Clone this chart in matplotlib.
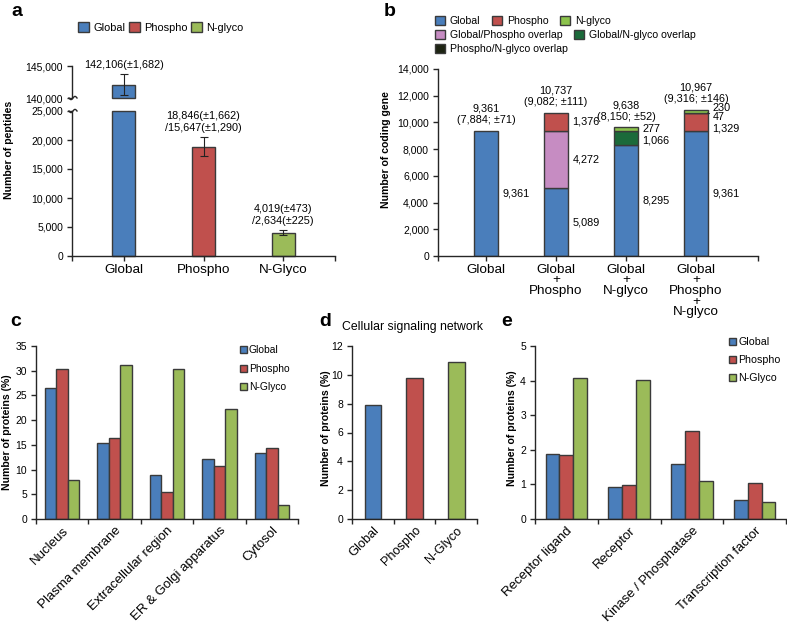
import numpy as np
import matplotlib
matplotlib.use("Agg")
from matplotlib import pyplot as plt
from matplotlib.patches import Patch
from matplotlib.lines import Line2D
from matplotlib.ticker import StrMethodFormatter

plt.rcParams["font.family"] = ["Liberation Sans", "DejaVu Sans"]

W, H = 787, 625

BLUE = "#4a7ebb"
RED = "#c0504d"
GREEN = "#9bbb59"
LIGHTGREEN = "#8cc34c"
PINK = "#c68cc2"
DKGREEN = "#1b6a3a"
BLACKISH = "#1d2412"
EDGE = "#3a3a3a"
AXIS = "#262626"

# a: peptides per dataset
a_categories = ["Global", "Phospho", "N-Glyco"]
a_peptides = [142106, 18846, 4019]
a_errors = [1682, 1662, 473]
a_labels = ["142,106(\u00b11,682)",
            "18,846(\u00b11,662)\n/15,647(\u00b11,290)",
            "4,019(\u00b1473)\n/2,634(\u00b1225)"]

# b: coding genes, stacked
b_categories = ["Global", "Global\n+\nPhospho", "Global\n+\nN-glyco",
                "Global\n+\nPhospho\n+\nN-glyco"]
b_global = [9361, 5089, 8295, 9361]
b_global_phospho = [0, 4272, 0, 0]
b_global_nglyco = [0, 0, 1066, 0]
b_phospho = [0, 1376, 0, 1329]
b_phospho_nglyco = [0, 0, 0, 47]
b_nglyco = [0, 0, 277, 230]
b_notes = ["(7,884; \u00b171)", "(9,082; \u00b1111)", "(8,150; \u00b152)", "(9,316; \u00b1146)"]

# c: subcellular location
c_categories = ["Nucleus", "Plasma membrane", "Extracellular region",
                "ER & Golgi apparatus", "Cytosol"]
c_global = [26.6, 15.3, 9.0, 12.1, 13.4]
c_phospho = [30.3, 16.3, 5.4, 10.7, 14.3]
c_nglyco = [7.8, 31.1, 30.3, 22.2, 2.9]

# d: cellular signaling network
d_categories = ["Global", "Phospho", "N-Glyco"]
d_values = [7.9, 9.8, 10.9]

# e: signaling classes
e_categories = ["Receptor ligand", "Receptor", "Kinase / Phosphatase",
                "Transcription factor"]
e_global = [1.89, 0.93, 1.59, 0.54]
e_phospho = [1.85, 0.98, 2.55, 1.04]
e_nglyco = [4.08, 4.01, 1.10, 0.49]


def rect(x0, y0, x1, y1):
    return [x0 / W, 1 - y1 / H, (x1 - x0) / W, (y1 - y0) / H]


def style(ax, bottom=True):
    for s in ["top", "right"]:
        ax.spines[s].set_visible(False)
    ax.spines["left"].set_color(AXIS)
    ax.spines["left"].set_linewidth(1)
    ax.spines["bottom"].set_color(AXIS)
    ax.spines["bottom"].set_linewidth(1)
    if not bottom:
        ax.spines["bottom"].set_visible(False)
    ax.tick_params(direction="out", length=3.5, width=1, color=AXIS,
                   labelsize=7.5, pad=3)


def category_axis(ax, labels, size):
    n = len(labels)
    ax.set_xlim(-0.5, n - 0.5)
    ax.set_xticks(np.arange(-0.5, n, 1))
    ax.set_xticklabels([])
    ax.set_xticks(np.arange(n), labels, minor=True, rotation=45,
                  ha="right", rotation_mode="anchor", fontsize=size)
    ax.tick_params(axis="x", which="minor", length=0, pad=4)


def figtext(x, y, s, **kw):
    fig.text(x / W, 1 - y / H, s, **kw)


def squiggle(x0, y0):
    t = np.linspace(-1, 1, 30)
    xs = (x0 + 4 * t) / W
    ys = 1 - (y0 - 1.6 * np.sin(np.pi * t)) / H
    fig.add_artist(Line2D(xs, ys, transform=fig.transFigure, color=AXIS, lw=1))


fig = plt.figure(figsize=(7.87, 6.25), dpi=100)

# ---------- a ----------
ax_hi = fig.add_axes(rect(72, 66, 335, 98))
ax_lo = fig.add_axes(rect(72, 111, 335, 256))
a_x = np.arange(len(a_categories))
a_vals = np.array(a_peptides)
a_cols = [BLUE, RED, GREEN]
lo_max, hi_min, hi_max = 25000, 140000, 145000
wa = 0.29

ax_lo.bar(a_x, np.minimum(a_vals, lo_max), wa, color=a_cols, edgecolor=EDGE,
          lw=1, clip_on=False)
big = a_vals > hi_min
ax_hi.bar(a_x[big], a_vals[big] - hi_min, wa, bottom=hi_min,
          color=np.array(a_cols)[big], edgecolor=EDGE, lw=1, clip_on=False)
for i, (v, e, lab) in enumerate(zip(a_peptides, a_errors, a_labels)):
    ax = ax_hi if v > hi_min else ax_lo
    ax.errorbar(a_x[i], v, yerr=e, fmt="none", ecolor="#222222",
                elinewidth=0.8, capsize=3, capthick=0.8, clip_on=False)
    ax.annotate(lab, (a_x[i], v + e), xytext=(0, 3), textcoords="offset points",
                ha="center", va="bottom", fontsize=7.8, linespacing=1.2,
                annotation_clip=False)

for ax in (ax_hi, ax_lo):
    ax.set_xlim(-0.65, 2.65)
    ax.yaxis.set_major_formatter(StrMethodFormatter("{x:,.0f}"))
style(ax_hi, bottom=False)
style(ax_lo)
ax_hi.set_ylim(hi_min, hi_max)
ax_hi.set_yticks([hi_min, hi_max])
ax_hi.set_xticks([])
ax_lo.set_ylim(0, lo_max)
ax_lo.set_yticks(np.arange(0, lo_max + 1, 5000))
ax_lo.set_xticks([-0.65, 0, 1, 2, 2.65], [""] + a_categories + [""], fontsize=9.7)
ax_lo.tick_params(axis="x", pad=2)
squiggle(73, 98)
squiggle(73, 111)
figtext(9, 150, "Number of peptides", rotation=90, ha="center", va="center",
        fontsize=7.6, fontweight="bold")
fig.legend(handles=[Patch(facecolor=c, edgecolor=EDGE, lw=1) for c in [BLUE, RED, GREEN]],
           labels=["Global", "Phospho", "N-glyco"], loc="upper left",
           bbox_to_anchor=(78 / W, 1 - 22 / H), ncol=3, frameon=False,
           fontsize=7.9, handlelength=1.0, handleheight=1.0, handletextpad=0.4,
           columnspacing=0.3, borderpad=0, borderaxespad=0)

# ---------- b ----------
axb = fig.add_axes(rect(438, 69, 758, 256))
b_x = np.arange(len(b_categories))
wb = 0.33
b_series = [(b_global, BLUE), (b_global_phospho, PINK), (b_global_nglyco, DKGREEN),
            (b_phospho, RED), (b_phospho_nglyco, BLACKISH), (b_nglyco, LIGHTGREEN)]
# label nudges (points) for crowded segments of the last bar
nudge = {(3, 3): -4.3, (4, 3): -3.0, (5, 3): 2.4, (2, 2): -1.4}
bottom = np.zeros(len(b_categories))
for k, (vals, col) in enumerate(b_series):
    vals = np.array(vals, dtype=float)
    m = vals > 0
    axb.bar(b_x[m], vals[m], wb, bottom=bottom[m], color=col, edgecolor=EDGE, lw=1)
    for i in np.where(m)[0]:
        dy = nudge.get((k, i), 0)
        kw = {}
        if k == 4:
            kw["arrowprops"] = dict(arrowstyle="-", lw=0.7, color=AXIS,
                                    shrinkA=0, shrinkB=0)
        axb.annotate(f"{int(vals[i]):,}", (b_x[i] + wb / 2, bottom[i] + vals[i] / 2),
                     xytext=(3.5, dy), textcoords="offset points", ha="left",
                     va="center", fontsize=7.8, **kw)
    bottom += vals
for i, note in enumerate(b_notes):
    axb.annotate(f"{int(bottom[i]):,}\n{note}", (b_x[i], bottom[i]), xytext=(0, 4),
                 textcoords="offset points", ha="center", va="bottom",
                 fontsize=7.8, linespacing=1.2)
style(axb)
axb.set_xlim(-0.686, 3.886)
axb.set_ylim(0, 14000)
axb.set_yticks(np.arange(0, 14001, 2000))
axb.yaxis.set_major_formatter(StrMethodFormatter("{x:,.0f}"))
axb.set_xticks([-0.686, 0, 1, 2, 3, 3.886], [""] + b_categories + [""],
               fontsize=9.7, linespacing=0.85)
axb.tick_params(axis="x", pad=2)
figtext(386, 150, "Number of coding gene", rotation=90, ha="center", va="center",
        fontsize=7.6, fontweight="bold")
b_rows = [[("Global", BLUE), ("Phospho", RED), ("N-glyco", LIGHTGREEN)],
          [("Global/Phospho overlap", PINK), ("Global/N-glyco overlap", DKGREEN)],
          [("Phospho/N-glyco overlap", BLACKISH)]]
for r, row in enumerate(b_rows):
    leg = fig.legend(handles=[Patch(facecolor=c, edgecolor=EDGE, lw=1) for _, c in row],
                     labels=[t for t, _ in row], loc="upper left",
                     bbox_to_anchor=(435 / W, 1 - (16 + 14 * r) / H), ncol=len(row),
                     frameon=False, fontsize=7.6, handlelength=0.95, handleheight=0.95,
                     handletextpad=0.45, columnspacing=1.1, borderpad=0,
                     borderaxespad=0)

# ---------- c ----------
axc = fig.add_axes(rect(36, 346, 298, 519))
c_x = np.arange(len(c_categories))
wc = 0.22
for off, vals, col, lab in [(-wc, c_global, BLUE, "Global"), (0, c_phospho, RED, "Phospho"),
                            (wc, c_nglyco, GREEN, "N-Glyco")]:
    axc.bar(c_x + off, vals, wc, color=col, edgecolor=EDGE, lw=1, label=lab)
style(axc)
axc.set_ylim(0, 35)
axc.set_yticks(np.arange(0, 36, 5))
category_axis(axc, c_categories, 9.5)
figtext(7, 432, "Number of proteins (%)", rotation=90, ha="center", va="center",
        fontsize=7.6, fontweight="bold")
axc.legend(loc="upper left", bbox_to_anchor=(240 / W, 1 - 345 / H),
           bbox_transform=fig.transFigure, frameon=False, fontsize=7.4,
           handlelength=0.65, handleheight=0.65, handletextpad=0.2,
           labelspacing=0.85, borderpad=0, borderaxespad=0)

# ---------- d ----------
axd = fig.add_axes(rect(352, 346, 477, 519))
d_x = np.arange(len(d_categories))
axd.bar(d_x, d_values, 0.4, color=[BLUE, RED, GREEN], edgecolor=EDGE, lw=1)
style(axd)
axd.set_ylim(0, 12)
axd.set_yticks(np.arange(0, 13, 2))
category_axis(axd, d_categories, 9.2)
figtext(412, 327, "Cellular signaling network", ha="center", va="center", fontsize=8.8)
figtext(326, 428, "Number of proteins (%)", rotation=90, ha="center", va="center",
        fontsize=7.6, fontweight="bold")

# ---------- e ----------
axe = fig.add_axes(rect(535, 346, 786, 519))
e_x = np.arange(len(e_categories))
we = 0.22
for off, vals, col, lab in [(-we, e_global, BLUE, "Global"), (0, e_phospho, RED, "Phospho"),
                            (we, e_nglyco, GREEN, "N-Glyco")]:
    axe.bar(e_x + off, vals, we, color=col, edgecolor=EDGE, lw=1, label=lab)
style(axe)
axe.set_ylim(0, 5)
axe.set_yticks(np.arange(0, 6, 1))
category_axis(axe, e_categories, 9.5)
figtext(512, 428, "Number of proteins (%)", rotation=90, ha="center", va="center",
        fontsize=7.6, fontweight="bold")
axe.legend(loc="upper left", bbox_to_anchor=(729 / W, 1 - 337 / H),
           bbox_transform=fig.transFigure, frameon=False, fontsize=7.7,
           handlelength=0.65, handleheight=0.65, handletextpad=0.2,
           labelspacing=0.75, borderpad=0, borderaxespad=0)

# panel letters
for s, x, y in [("a", 17, 12), ("b", 390, 12), ("c", 16, 322), ("d", 325, 322),
                ("e", 507, 322)]:
    figtext(x, y, s, ha="center", va="center", fontsize=14, fontweight="bold")

fig.savefig("out.png", dpi=100)
